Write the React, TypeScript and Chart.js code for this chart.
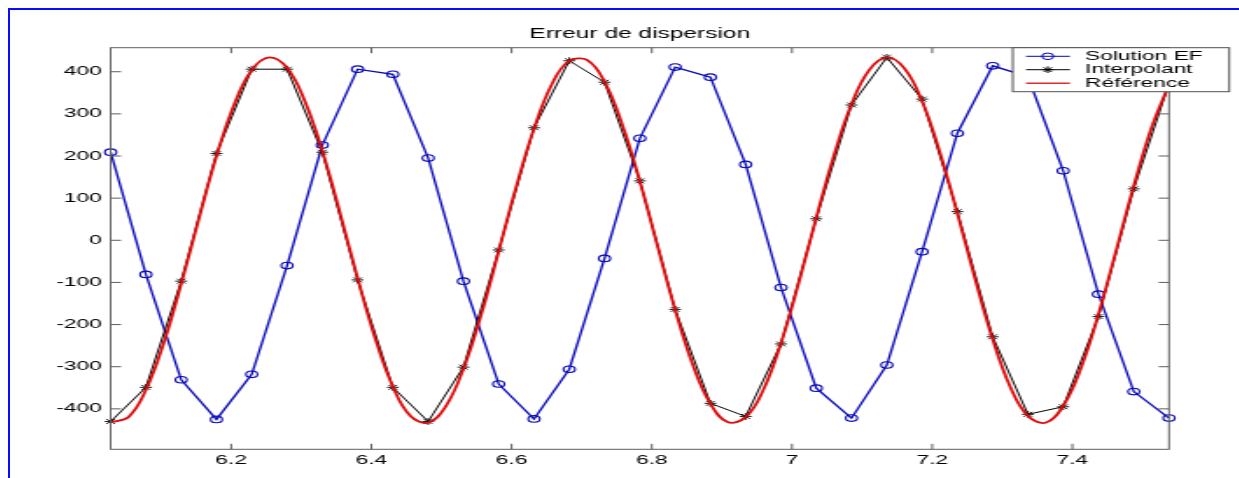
import React, { useEffect, useRef } from 'react';
import { Chart, registerables } from 'chart.js';

Chart.register(...registerables);

// ---------- data ----------
const chartTitle = 'Erreur de dispersion';
const seriesLabels = ['Solution EF', 'Interpolant', 'Référence'];

const sampleX = [
  6.028, 6.0783, 6.1287, 6.179, 6.2293, 6.2797, 6.33, 6.3803, 6.4306, 6.481,
  6.5313, 6.5816, 6.632, 6.6823, 6.7326, 6.783, 6.8333, 6.8836, 6.9339, 6.9843,
  7.0346, 7.0849, 7.1353, 7.1856, 7.2359, 7.2863, 7.3366, 7.3869, 7.4372, 7.4876,
  7.5379,
];

const solutionEF = [
  209, -81, -331, -425, -318, -60, 226, 406, 394, 195,
  -97, -341, -424, -306, -43, 242, 411, 387, 180, -112,
  -351, -422, -296, -27, 254, 414, 388, 165, -128, -359,
  -422,
];

const interpolant = [
  -430, -349, -97, 206, 406, 406, 209, -94, -349, -430,
  -301, -23, 267, 426, 375, 141, -164, -387, -418, -246,
  51, 321, 434, 335, 68, -229, -413, -395, -181, 122,
  372,
];

const referenceX = [
  6.028, 6.0532, 6.0783, 6.1035, 6.1287, 6.1538, 6.179, 6.2042, 6.2293, 6.2545,
  6.2797, 6.3048, 6.33, 6.3552, 6.3803, 6.4055, 6.4306, 6.4558, 6.481, 6.5061,
  6.5313, 6.5565, 6.5816, 6.6068, 6.632, 6.6571, 6.6823, 6.7075, 6.7326, 6.7578,
  6.783, 6.8081, 6.8333, 6.8584, 6.8836, 6.9088, 6.9339, 6.9591, 6.9843, 7.0094,
  7.0346, 7.0598, 7.0849, 7.1101, 7.1353, 7.1604, 7.1856, 7.2107, 7.2359, 7.2611,
  7.2863, 7.3114, 7.3366, 7.3618, 7.3869, 7.4121, 7.4372, 7.4624, 7.4876, 7.5127,
  7.5379,
];

const reference = [
  -432, -420, -355, -245, -103, 51, 200, 322, 404, 434,
  409, 331, 212, 65, -90, -233, -347, -417, -433, -394,
  -305, -177, -26, 128, 265, 369, 426, 428, 376, 275,
  140, -13, -165, -295, -388, -432, -420, -355, -244, -102,
  53, 201, 323, 404, 434, 408, 330, 210, 64, -91,
  -235, -348, -417, -433, -393, -304, -176, -25, 129, 266,
  370,
];

const xTickValues = [6.2, 6.4, 6.6, 6.8, 7.0, 7.2, 7.4];
const xTickLabels = ['6.2', '6.4', '6.6', '6.8', '7', '7.2', '7.4'];
const yTickValues = [-400, -300, -200, -100, 0, 100, 200, 300, 400];
const yTickLabels = ['-400', '-300', '-200', '-100', '0', '100', '200', '300', '400'];

const xMin = 6.028;
const xMax = 7.5379;
const yMin = -496;
const yMax = 457;

// ---------- styling ----------
const SX = 1.75; // horizontal stretch of the original picture
const CW = 702;
const CH = 468;
const FONT = "'Liberation Sans', Arial, Helvetica, sans-serif";
const BLUE = '#0606b8';
const BLACK = '#000000';
const RED = '#dc0a0a';
const AXIS = '#5e5e5e';

const axesBoxPlugin = {
  id: 'matlabAxesBox',
  afterDatasetsDraw(chart: any) {
    const { ctx, chartArea: a, scales } = chart;
    ctx.save();
    ctx.strokeStyle = AXIS;
    ctx.lineWidth = 1;
    ctx.strokeRect(a.left, a.top, a.right - a.left, a.bottom - a.top);
    ctx.beginPath();
    const tx = 5.5;
    const ty = 6;
    scales.x.ticks.forEach((t: any) => {
      const px = scales.x.getPixelForValue(t.value);
      ctx.moveTo(px, a.bottom);
      ctx.lineTo(px, a.bottom - tx);
      ctx.moveTo(px, a.top);
      ctx.lineTo(px, a.top + tx);
    });
    scales.y.ticks.forEach((t: any) => {
      const py = scales.y.getPixelForValue(t.value);
      ctx.moveTo(a.left, py);
      ctx.lineTo(a.left + ty, py);
      ctx.moveTo(a.right, py);
      ctx.lineTo(a.right - ty, py);
    });
    ctx.stroke();
    ctx.restore();
  },
};

const legendPlugin = {
  id: 'matlabLegend',
  afterDraw(chart: any) {
    const { ctx } = chart;
    const x0 = 573;
    const y0 = 37.7;
    const x1 = 696.7;
    const y1 = 81.7;
    const rows = [46.3, 59.7, 73.2];
    ctx.save();
    ctx.fillStyle = '#ffffff';
    ctx.fillRect(x0, y0, x1 - x0, y1 - y0);
    ctx.strokeStyle = '#505050';
    ctx.lineWidth = 1;
    ctx.strokeRect(x0, y0, x1 - x0, y1 - y0);
    chart.data.datasets.forEach((ds: any, i: number) => {
      const y = rows[i];
      ctx.strokeStyle = ds.borderColor;
      ctx.lineWidth = i === 2 ? 1.3 : 1;
      ctx.beginPath();
      ctx.moveTo(580.6, y);
      ctx.lineTo(605.7, y);
      ctx.stroke();
      const cx = 593;
      if (ds.pointRadius > 0 && ds.pointStyle === 'circle') {
        ctx.beginPath();
        ctx.arc(cx, y, 3.3, 0, Math.PI * 2);
        ctx.stroke();
      } else if (ds.pointRadius > 0 && ds.pointStyle === 'star') {
        const r = 3.3;
        ctx.beginPath();
        for (let k = 0; k < 4; k++) {
          const ang = (Math.PI / 4) * k;
          ctx.moveTo(cx - r * Math.cos(ang), y - r * Math.sin(ang));
          ctx.lineTo(cx + r * Math.cos(ang), y + r * Math.sin(ang));
        }
        ctx.stroke();
      }
      ctx.fillStyle = '#000000';
      ctx.font = `13px ${FONT}`;
      ctx.textBaseline = 'middle';
      ctx.textAlign = 'left';
      ctx.fillText(ds.label, 614.3, y);
    });
    ctx.restore();
  },
};

export default function App() {
  const canvasRef = useRef<HTMLCanvasElement>(null);

  useEffect(() => {
    const canvas = canvasRef.current;
    if (!canvas) return;
    const chart = new Chart(canvas, {
      type: 'line',
      data: {
        datasets: [
          {
            label: seriesLabels[0],
            data: sampleX.map((x, i) => ({ x, y: solutionEF[i] })),
            borderColor: BLUE,
            borderWidth: 1.3,
            pointStyle: 'circle',
            pointRadius: 3.3,
            pointBorderWidth: 1.1,
            pointBorderColor: BLUE,
            pointBackgroundColor: 'rgba(0,0,0,0)',
            tension: 0,
            clip: false,
            order: 3,
          },
          {
            label: seriesLabels[1],
            data: sampleX.map((x, i) => ({ x, y: interpolant[i] })),
            borderColor: BLACK,
            borderWidth: 1,
            pointStyle: 'star',
            pointRadius: 3.4,
            pointBorderWidth: 1,
            pointBorderColor: '#1a1a1a',
            pointBackgroundColor: 'rgba(0,0,0,0)',
            tension: 0,
            clip: false,
            order: 2,
          },
          {
            label: seriesLabels[2],
            data: referenceX.map((x, i) => ({ x, y: reference[i] })),
            borderColor: RED,
            borderWidth: 1.8,
            pointRadius: 0,
            tension: 0.4,
            clip: false,
            order: 1,
          },
        ],
      } as any,
      options: {
        animation: false,
        responsive: false,
        devicePixelRatio: 1,
        events: [],
        layout: { padding: { left: 0, top: 0, right: 39.7, bottom: 0 } },
        plugins: {
          legend: { display: false },
          tooltip: { enabled: false },
          title: {
            display: true,
            text: chartTitle,
            fullSize: false,
            color: '#000000',
            font: { family: FONT, size: 14, weight: 'normal' },
            padding: { top: 16, bottom: 4.9 },
          },
        },
        scales: {
          x: {
            type: 'linear',
            min: xMin,
            max: xMax,
            grid: { display: false, drawTicks: false },
            border: { display: false },
            afterBuildTicks: (scale: any) => {
              scale.ticks = xTickValues.map((v) => ({ value: v }));
            },
            afterFit: (scale: any) => {
              scale.height = 28.7;
            },
            ticks: {
              autoSkip: false,
              maxRotation: 0,
              minRotation: 0,
              padding: 3,
              color: '#000000',
              font: { family: FONT, size: 13 },
              callback: (_v: any, i: number) => xTickLabels[i],
            },
          },
          y: {
            type: 'linear',
            min: yMin,
            max: yMax,
            grid: { display: false, drawTicks: false },
            border: { display: false },
            afterBuildTicks: (scale: any) => {
              scale.ticks = yTickValues.map((v) => ({ value: v }));
            },
            afterFit: (scale: any) => {
              scale.width = 57.5;
            },
            ticks: {
              autoSkip: false,
              padding: 5,
              color: '#000000',
              font: { family: FONT, size: 13 },
              callback: (_v: any, i: number) => yTickLabels[i],
            },
          },
        },
      } as any,
      plugins: [axesBoxPlugin, legendPlugin],
    });
    return () => chart.destroy();
  }, []);

  return (
    <div
      style={{
        position: 'fixed',
        left: 8,
        top: 8,
        width: 1231,
        height: 470,
        boxSizing: 'border-box',
        borderTop: '2px solid #0a0aff',
        borderLeft: '2px solid #0a0aff',
        background: '#ffffff',
        overflow: 'hidden',
      }}
    >
      <canvas
        ref={canvasRef}
        width={CW}
        height={CH}
        style={{
          position: 'absolute',
          left: 0,
          top: 0,
          width: CW,
          height: CH,
          transform: `scaleX(${SX})`,
          transformOrigin: '0 0',
        }}
      />
    </div>
  );
}
